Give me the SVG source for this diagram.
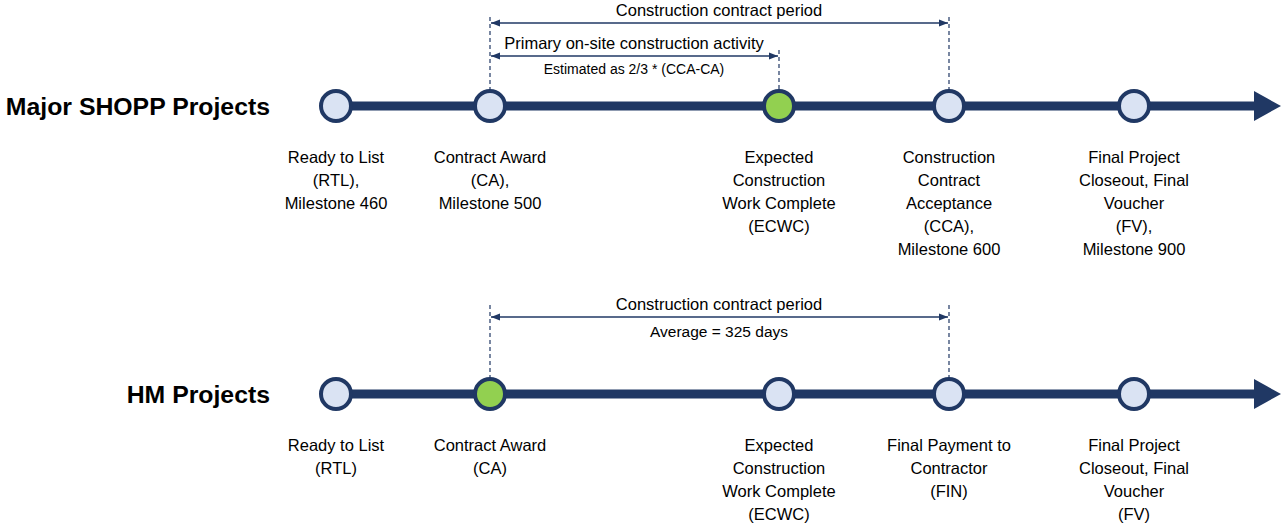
<svg xmlns="http://www.w3.org/2000/svg" width="1281" height="523" viewBox="0 0 1281 523">
<style>
.t{font-family:"Liberation Sans",Arial,sans-serif;font-size:16.5px;fill:#000;text-anchor:middle}
.s{font-size:14px}
.a{font-size:15.5px}
.h{font-family:"Liberation Sans",Arial,sans-serif;font-size:24.8px;font-weight:bold;fill:#000;text-anchor:end}
.axis{stroke:#203864;stroke-width:9;fill:none}
.dash{stroke:#203864;stroke-width:1.2;stroke-dasharray:4,3;fill:none}
.dim{stroke:#203864;stroke-width:1.3;fill:none;marker-start:url(#a);marker-end:url(#a)}
.n{stroke:#203864;stroke-width:4;fill:#dae3f3}
.g{fill:#92d050}
</style>
<defs>
<marker id="a" viewBox="0 0 10 10" refX="10" refY="5" markerWidth="9" markerHeight="9" markerUnits="userSpaceOnUse" orient="auto-start-reverse">
<path d="M0,1 L10,5 L0,9 Z" fill="#203864"/>
</marker>
</defs>
<g id="connectors">
<line class="axis" x1="336" y1="106" x2="1258" y2="106"/>
<path d="M1254,91 L1281,106 L1254,121 Z" fill="#203864"/>
<line class="axis" x1="336" y1="394" x2="1258" y2="394"/>
<path d="M1254,379 L1281,394 L1254,409 Z" fill="#203864"/>
<line class="dash" x1="490" y1="17" x2="490" y2="90"/>
<line class="dash" x1="949" y1="17" x2="949" y2="90"/>
<line class="dash" x1="779" y1="50" x2="779" y2="90"/>
<line class="dim" x1="491" y1="23" x2="948" y2="23"/>
<line class="dim" x1="491" y1="56" x2="778" y2="56"/>
<line class="dash" x1="490" y1="305" x2="490" y2="378"/>
<line class="dash" x1="949" y1="305" x2="949" y2="378"/>
<line class="dim" x1="491" y1="317" x2="948" y2="317"/>
</g>
<g id="dim-labels">
<text class="t" x="719" y="16">Construction contract period</text>
<text class="t" x="634" y="49">Primary on-site construction activity</text>
<text class="t s" x="634" y="74">Estimated as 2/3 * (CCA-CA)</text>
<text class="t" x="719" y="310">Construction contract period</text>
<text class="t a" x="719" y="337">Average = 325 days</text>
</g>
<g id="title-major"><text class="h" x="270" y="115">Major SHOPP Projects</text></g>
<g id="title-hm"><text class="h" x="270" y="403">HM Projects</text></g>
<g id="m-rtl"><circle class="n" cx="336" cy="106" r="15"/>
<text class="t" x="336" y="163">Ready to List</text><text class="t" x="336" y="186">(RTL),</text><text class="t" x="336" y="209">Milestone 460</text></g>
<g id="m-ca"><circle class="n" cx="490" cy="106" r="15"/>
<text class="t" x="490" y="163">Contract Award</text><text class="t" x="490" y="186">(CA),</text><text class="t" x="490" y="209">Milestone 500</text></g>
<g id="m-ecwc"><circle class="n g" cx="779" cy="106" r="15"/>
<text class="t" x="779" y="163">Expected</text><text class="t" x="779" y="186">Construction</text><text class="t" x="779" y="209">Work Complete</text><text class="t" x="779" y="232">(ECWC)</text></g>
<g id="m-cca"><circle class="n" cx="949" cy="106" r="15"/>
<text class="t" x="949" y="163">Construction</text><text class="t" x="949" y="186">Contract</text><text class="t" x="949" y="209">Acceptance</text><text class="t" x="949" y="232">(CCA),</text><text class="t" x="949" y="255">Milestone 600</text></g>
<g id="m-fv"><circle class="n" cx="1134" cy="106" r="15"/>
<text class="t" x="1134" y="163">Final Project</text><text class="t" x="1134" y="186">Closeout, Final</text><text class="t" x="1134" y="209">Voucher</text><text class="t" x="1134" y="232">(FV),</text><text class="t" x="1134" y="255">Milestone 900</text></g>
<g id="h-rtl"><circle class="n" cx="336" cy="394" r="15"/>
<text class="t" x="336" y="451">Ready to List</text><text class="t" x="336" y="474">(RTL)</text></g>
<g id="h-ca"><circle class="n g" cx="490" cy="394" r="15"/>
<text class="t" x="490" y="451">Contract Award</text><text class="t" x="490" y="474">(CA)</text></g>
<g id="h-ecwc"><circle class="n" cx="779" cy="394" r="15"/>
<text class="t" x="779" y="451">Expected</text><text class="t" x="779" y="474">Construction</text><text class="t" x="779" y="497">Work Complete</text><text class="t" x="779" y="520">(ECWC)</text></g>
<g id="h-fin"><circle class="n" cx="949" cy="394" r="15"/>
<text class="t" x="949" y="451">Final Payment to</text><text class="t" x="949" y="474">Contractor</text><text class="t" x="949" y="497">(FIN)</text></g>
<g id="h-fv"><circle class="n" cx="1134" cy="394" r="15"/>
<text class="t" x="1134" y="451">Final Project</text><text class="t" x="1134" y="474">Closeout, Final</text><text class="t" x="1134" y="497">Voucher</text><text class="t" x="1134" y="520">(FV)</text></g>
</svg>
